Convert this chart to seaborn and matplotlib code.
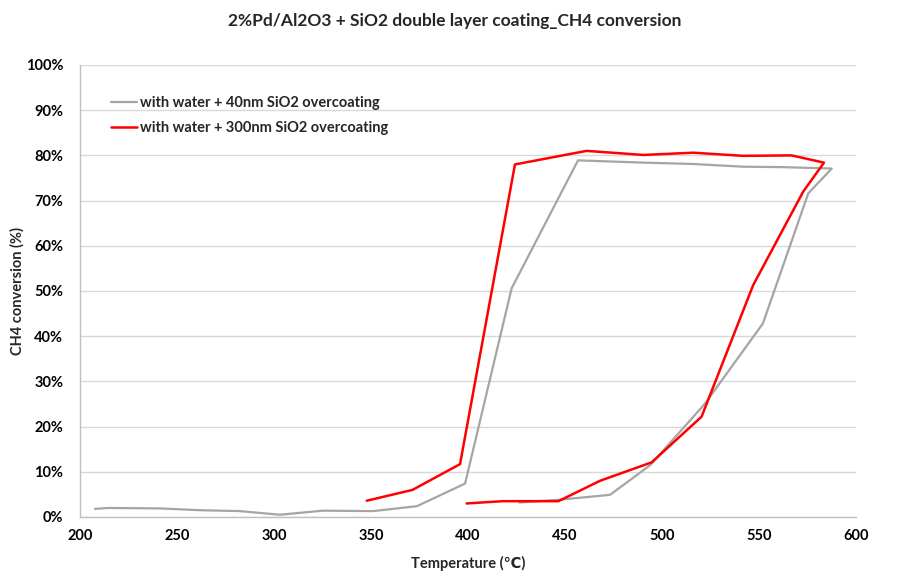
import matplotlib
matplotlib.use("Agg")
import matplotlib.pyplot as plt
import matplotlib.ticker as mticker
import seaborn as sns
import pandas as pd

# Data (drawn in recorded order: heating branch then cooling branch)
temp_40nm = [207.7, 214.6, 241, 262, 282.5, 303, 325, 351, 373.7, 398.5, 422.5, 456.7,
             490.4, 516, 541.9, 562.5, 587.5, 575.4, 552, 522, 494, 473.2, 446.5, 426.5]
conv_40nm = [1.8, 2.0, 1.9, 1.5, 1.3, 0.5, 1.4, 1.3, 2.4, 7.4, 50.6, 78.9,
             78.4, 78.1, 77.5, 77.4, 77.1, 71.6, 42.8, 25.0, 11.5, 4.9, 3.8, 3.2]

temp_300nm = [347.8, 371.4, 395.9, 424.2, 461.1, 490.4, 516.1, 541.9, 566.8, 583.5,
              572.8, 547.0, 520.4, 494.7, 468.0, 446.6, 418.0, 399.3]
conv_300nm = [3.6, 6.0, 11.7, 78.0, 81.0, 80.1, 80.6, 79.9, 80.0, 78.4,
              72.0, 51.3, 22.2, 12.1, 8.0, 3.5, 3.5, 3.0]

labels = ["with water + 40nm SiO2 overcoating", "with water + 300nm SiO2 overcoating"]
colors = ["#A5A5A5", "#FF0000"]
title = "2%Pd/Al2O3 + SiO2 double layer coating_CH4 conversion"

sns.set_theme(style="white")
plt.rcParams["font.family"] = ["Lato", "DejaVu Sans"]

df1 = pd.DataFrame({"T": temp_40nm, "X": conv_40nm})
df2 = pd.DataFrame({"T": temp_300nm, "X": conv_300nm})

fig = plt.figure(figsize=(9.02, 5.76), dpi=100)
ax = fig.add_axes([80/902, 1-517/576, (856-80)/902, (517-65)/576])

sns.lineplot(data=df1, x="T", y="X", sort=False, estimator=None, color=colors[0],
             linewidth=1.6, label=labels[0], ax=ax)
sns.lineplot(data=df2, x="T", y="X", sort=False, estimator=None, color=colors[1],
             linewidth=1.8, label=labels[1], ax=ax)

ax.set_xlim(200, 600)
ax.set_ylim(0, 100)
ax.set_xticks(range(200, 601, 50))
ax.set_yticks(range(0, 101, 10))
ax.yaxis.set_major_formatter(mticker.FuncFormatter(lambda v, p: f"{int(v)}%"))
ax.grid(axis="y", color="#D9D9D9", linewidth=1)
ax.grid(axis="x", visible=False)
for s in ["top", "right"]:
    ax.spines[s].set_visible(False)
for s in ["left", "bottom"]:
    ax.spines[s].set_color("#BFBFBF")
    ax.spines[s].set_linewidth(1)
ax.tick_params(axis="x", length=0, labelsize=10.5, pad=9, colors="black")
ax.tick_params(axis="y", length=0, labelsize=10.5, pad=12, colors="black")
for lab in ax.get_xticklabels() + ax.get_yticklabels():
    lab.set_fontweight("bold")

ax.set_xlabel("Temperature (℃)", fontsize=10.5, fontweight="bold", labelpad=9)
ax.set_ylabel("CH4 conversion (%)", fontsize=10.5, fontweight="bold", labelpad=9)
ax.yaxis.set_label_coords(-0.071, 0.5)
fig.text(455/902, 1-21/576, title, ha="center", va="center", fontsize=12.5, fontweight="bold")

leg = ax.legend(loc="upper left", bbox_to_anchor=(0.023, 0.96), frameon=False,
                handlelength=1.8, handletextpad=0.2, labelspacing=0.75,
                prop={"weight": "bold", "size": 10.5})

fig.savefig("out.png", dpi=100)
